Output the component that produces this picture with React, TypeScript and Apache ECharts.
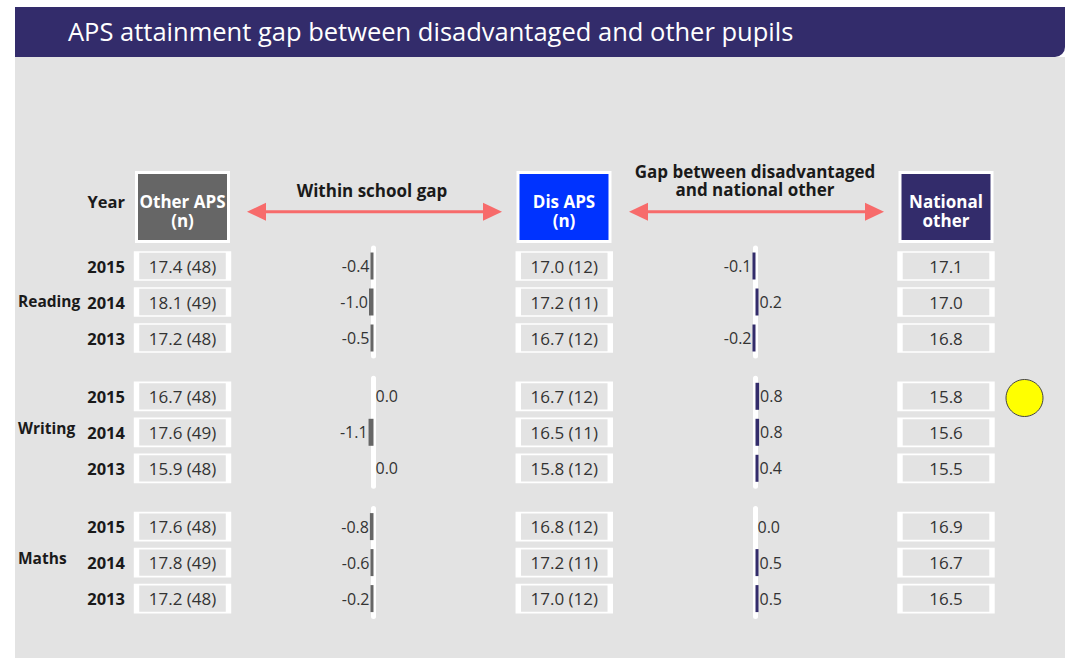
import React, { useEffect, useRef } from "react";
import * as echarts from "echarts";

const groups = ["Reading", "Writing", "Maths"];
const years = ["2015", "2014", "2013"];
const otherAPS = [[17.4, 18.1, 17.2], [16.7, 17.6, 15.9], [17.6, 17.8, 17.2]];
const otherN = [[48, 49, 48], [48, 49, 48], [48, 49, 48]];
const disAPS = [[17.0, 17.2, 16.7], [16.7, 16.5, 15.8], [16.8, 17.2, 17.0]];
const disN = [[12, 11, 12], [12, 11, 12], [12, 11, 12]];
const nationalOther = [[17.1, 17.0, 16.8], [15.8, 15.6, 15.5], [16.9, 16.7, 16.5]];
const withinGap = [[-0.4, -1.0, -0.5], [0.0, -1.1, 0.0], [-0.8, -0.6, -0.2]];
const nationalGap = [[-0.1, 0.2, -0.2], [0.8, 0.8, 0.4], [0.0, 0.5, 0.5]];

const FONT = "Open Sans";
const BG = "#e3e3e3";
const PURPLE = "#332c6b";
const ARROW = "#f76b6b";

function buildOption() {
  const grids: any[] = [];
  const xAxes: any[] = [];
  const yAxes: any[] = [];
  const series: any[] = [];
  const graphics: any[] = [];

  groups.forEach((gName, g) => {
    const top = 248 + g * 130.3;
    // cells grid
    const cellIdx = grids.length;
    grids.push({ left: 182.5, width: 763.5, top, height: 108 });
    xAxes.push({ gridIndex: cellIdx, type: "value", min: 0, max: 2, show: false });
    yAxes.push({
      gridIndex: cellIdx, type: "category", data: years, inverse: true,
      axisLine: { show: false }, axisTick: { show: false }, splitLine: { show: false },
      axisLabel: { show: true, margin: 57.5, fontFamily: FONT, fontSize: 16.5, fontWeight: "bold", color: "#1a1a1a" },
    });
    const cellData: any[] = [];
    years.forEach((y, r) => {
      cellData.push({ value: [0, r], label: { formatter: `${otherAPS[g][r].toFixed(1)} (${otherN[g][r]})` } });
      cellData.push({ value: [1, r], label: { formatter: `${disAPS[g][r].toFixed(1)} (${disN[g][r]})` } });
      cellData.push({ value: [2, r], label: { formatter: `${nationalOther[g][r].toFixed(1)}` } });
    });
    series.push({
      type: "scatter", xAxisIndex: cellIdx, yAxisIndex: cellIdx, clip: false,
      symbol: "rect", symbolSize: [92, 28],
      itemStyle: { color: BG, borderColor: "#ffffff", borderWidth: 3, opacity: 1 },
      label: { show: true, position: "inside", fontFamily: FONT, fontSize: 17, color: "#333333" },
      emphasis: { disabled: true },
      data: cellData,
    });

    const gapDefs = [
      { left: 247.5, data: withinGap[g], color: "#666666" },
      { left: 629.5, data: nationalGap[g], color: PURPLE },
    ];
    gapDefs.forEach((d) => {
      const idx = grids.length;
      grids.push({ left: d.left, width: 252, top, height: 108 });
      xAxes.push({ gridIndex: idx, type: "value", min: -28, max: 28, show: false });
      yAxes.push({
        gridIndex: idx, type: "category", data: years, inverse: true,
        axisLabel: { show: false }, axisTick: { show: false }, splitLine: { show: false },
        axisLine: { show: true, onZero: true, lineStyle: { color: "#ffffff", width: 5 } },
      });
      series.push({
        type: "bar", xAxisIndex: idx, yAxisIndex: idx, barWidth: 27, barMinHeight: 3,
        itemStyle: { color: d.color },
        emphasis: { disabled: true },
        data: d.data.map((v) => ({
          value: v,
          itemStyle: v === 0 ? { color: "rgba(0,0,0,0)" } : undefined,
          label: {
            show: true, position: v < 0 ? "left" : "right", distance: v === 0 ? -1 : 1,
            formatter: v.toFixed(1), fontFamily: FONT, fontSize: 16, color: "#333333",
          },
        })),
      });
    });

    const labelY = [301, 428, 558][g];
    graphics.push({
      type: "text", x: 18, y: labelY,
      style: { text: gName, fontFamily: FONT, fontSize: 15.5, fontWeight: "bold", fill: "#1a1a1a", verticalAlign: "middle" },
    });
  });

  // background & banner
  const bgGraphics: any[] = [
    { type: "rect", shape: { x: 15, y: 57, width: 1050, height: 601 }, style: { fill: BG }, z: -10 },
    { type: "rect", shape: { x: 15, y: 7, width: 1050, height: 50, r: [0, 0, 10, 0] }, style: { fill: PURPLE }, z: -9 },
    {
      type: "text", x: 68, y: 31, z: 10,
      style: { text: "APS attainment gap between disadvantaged and other pupils", fontFamily: FONT, fontSize: 25.5, fill: "#ffffff", textVerticalAlign: "middle" },
    },
  ];

  const headers = [
    { cx: 182.5, fill: "#666666", text: "Other APS\n(n)" },
    { cx: 564, fill: "#0033ff", text: "Dis APS\n(n)" },
    { cx: 946, fill: PURPLE, text: "National\nother" },
  ];
  headers.forEach((h) => {
    bgGraphics.push({
      type: "rect", shape: { x: h.cx - 46, y: 172.5, width: 92, height: 69 },
      style: { fill: h.fill, stroke: "#ffffff", lineWidth: 3 },
    });
    bgGraphics.push({
      type: "text", x: h.cx, y: 211,
      style: { text: h.text, fontFamily: FONT, fontSize: 17, fontWeight: "bold", fill: "#ffffff", align: "center", verticalAlign: "middle", lineHeight: 19 },
    });
  });

  bgGraphics.push({
    type: "text", x: 125, y: 201,
    style: { text: "Year", fontFamily: FONT, fontSize: 16.5, fontWeight: "bold", fill: "#1a1a1a", align: "right", verticalAlign: "middle" },
  });
  bgGraphics.push({
    type: "text", x: 372, y: 190,
    style: { text: "Within school gap", fontFamily: FONT, fontSize: 17, fontWeight: "bold", fill: "#1a1a1a", align: "center", verticalAlign: "middle" },
  });
  bgGraphics.push({
    type: "text", x: 755, y: 180.5,
    style: { text: "Gap between disadvantaged\nand national other", fontFamily: FONT, fontSize: 17, fontWeight: "bold", fill: "#1a1a1a", align: "center", verticalAlign: "middle", lineHeight: 18 },
  });

  const arrows = [[247, 502], [629, 884]];
  arrows.forEach(([x1, x2]) => {
    const y = 211.7;
    bgGraphics.push({ type: "line", shape: { x1: x1 + 15, y1: y, x2: x2 - 15, y2: y }, style: { stroke: ARROW, lineWidth: 3 } });
    bgGraphics.push({ type: "polygon", shape: { points: [[x1, y], [x1 + 19, y - 9], [x1 + 19, y + 9]] }, style: { fill: ARROW } });
    bgGraphics.push({ type: "polygon", shape: { points: [[x2, y], [x2 - 19, y - 9], [x2 - 19, y + 9]] }, style: { fill: ARROW } });
  });

  bgGraphics.push({
    type: "circle", shape: { cx: 1024.5, cy: 398, r: 18.5 },
    style: { fill: "#ffff00", stroke: "#444444", lineWidth: 1 },
  });

  return {
    animation: false,
    backgroundColor: "#ffffff",
    grid: grids,
    xAxis: xAxes,
    yAxis: yAxes,
    series,
    graphic: [...bgGraphics, ...graphics],
  };
}

export default function App() {
  const ref = useRef<HTMLDivElement>(null);
  useEffect(() => {
    document.body.style.margin = "0";
    const chart = echarts.init(ref.current!, undefined, { renderer: "svg" });
    chart.setOption(buildOption() as any);
    return () => chart.dispose();
  }, []);
  return <div ref={ref} style={{ position: "absolute", left: 0, top: 0, width: 1065, height: 658 }} />;
}
